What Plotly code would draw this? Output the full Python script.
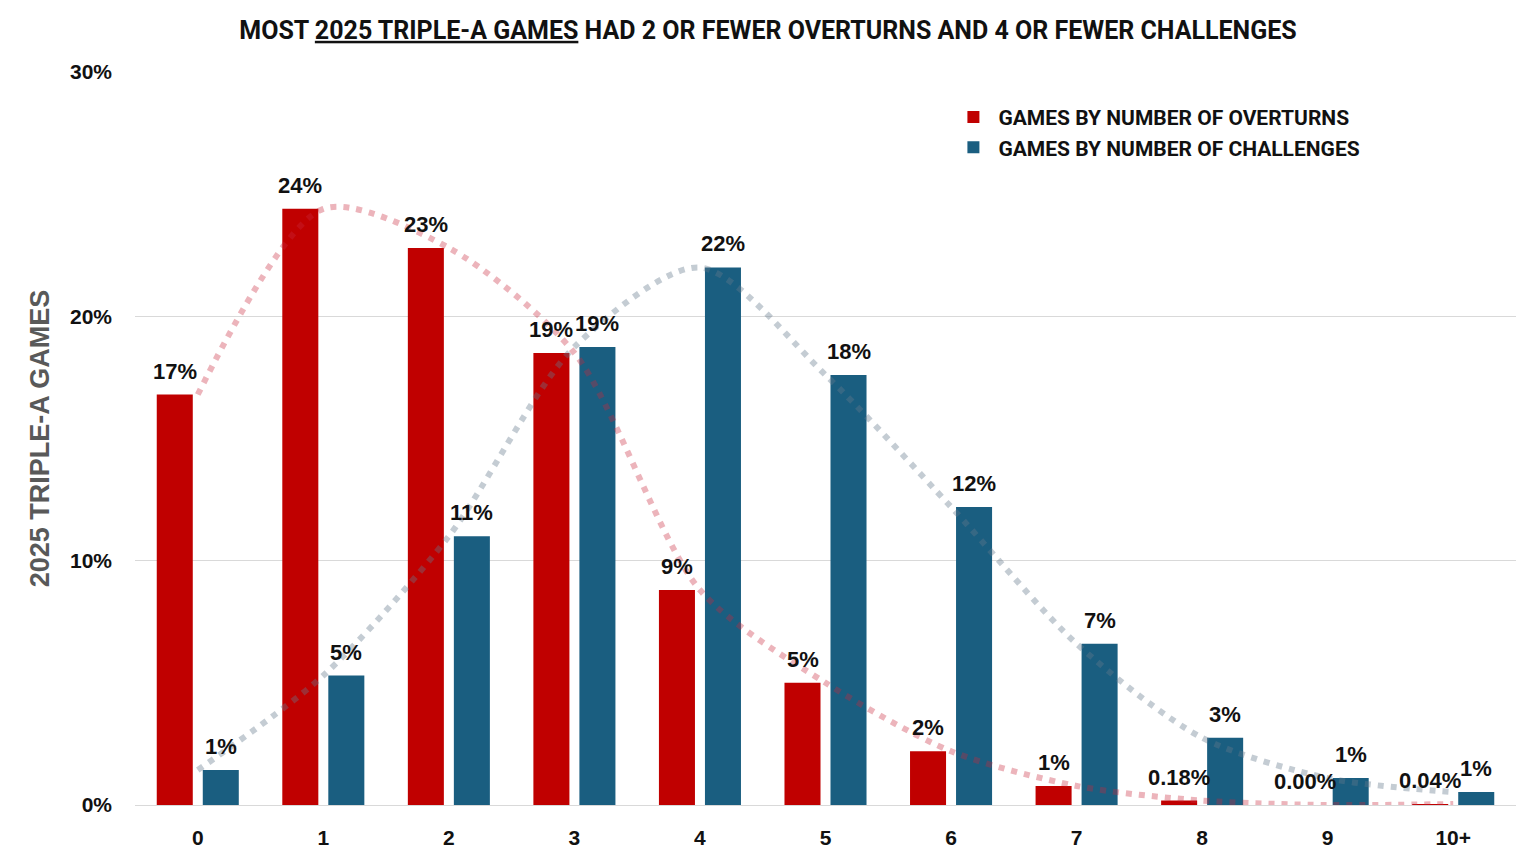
import plotly.graph_objects as go

categories = ["0", "1", "2", "3", "4", "5", "6", "7", "8", "9", "10+"]
overturns = [16.8, 24.4, 22.8, 18.5, 8.8, 5.0, 2.2, 0.78, 0.18, 0.0, 0.04]
challenges = [1.43, 5.3, 11.0, 18.75, 22.0, 17.6, 12.2, 6.6, 2.75, 1.1, 0.53]
overturn_labels = ["17%", "24%", "23%", "19%", "9%", "5%", "2%", "1%", "0.18%", "0.00%", "0.04%"]
challenge_labels = ["1%", "5%", "11%", "19%", "22%", "18%", "12%", "7%", "3%", "1%", "1%"]
y_tick_vals = [0, 10, 20, 30]
y_tick_text = ["0%", "10%", "20%", "30%"]

RED = "#C00000"
BLUE = "#1A5E80"
LABEL_FONT = dict(family="Liberation Sans, Arial", size=22, color="#111111")

fig = go.Figure()
fig.add_trace(go.Bar(
    x=categories, y=overturns, name="<b>GAMES BY NUMBER OF OVERTURNS</b>",
    marker=dict(color=RED, line=dict(width=0)), hoverinfo="skip",
))
fig.add_trace(go.Bar(
    x=categories, y=challenges, name="<b>GAMES BY NUMBER OF CHALLENGES</b>",
    marker=dict(color=BLUE, line=dict(width=0)), hoverinfo="skip",
))
fig.add_trace(go.Scatter(
    x=categories, y=overturns, mode="lines", showlegend=False, hoverinfo="skip",
    line=dict(color="rgba(200,40,60,0.35)", width=6, dash="6px,7px", shape="spline", smoothing=0.8),
))
fig.add_trace(go.Scatter(
    x=categories, y=challenges, mode="lines", showlegend=False, hoverinfo="skip",
    line=dict(color="rgba(100,120,140,0.38)", width=6, dash="6px,7px", shape="spline", smoothing=0.8),
))

# data labels above each bar (red bars sit left of category centre, blue right)
annotations = []
for cat, val, lab in zip(categories, overturns, overturn_labels):
    annotations.append(dict(x=cat, y=val, xref="x", yref="y", text="<b>%s</b>" % lab,
                            showarrow=False, xshift=-23, yshift=9, yanchor="bottom",
                            xanchor="center", font=LABEL_FONT))
for cat, val, lab in zip(categories, challenges, challenge_labels):
    annotations.append(dict(x=cat, y=val, xref="x", yref="y", text="<b>%s</b>" % lab,
                            showarrow=False, xshift=23, yshift=9, yanchor="bottom",
                            xanchor="center", font=LABEL_FONT))

fig.update_layout(
    width=1520, height=848,
    margin=dict(l=127, r=12, t=64, b=51, autoexpand=False),
    paper_bgcolor="white", plot_bgcolor="white",
    barmode="group", bargap=0.267, bargroupgap=0.217,
    title=dict(
        text="<b>MOST <u>2025 TRIPLE-A GAMES</u> HAD 2 OR FEWER OVERTURNS AND 4 OR FEWER CHALLENGES</b>",
        font=dict(family="Roboto", size=25, color="#111111"),
        x=0.5, xref="container", xanchor="center", y=0.974, yref="container", yanchor="middle",
    ),
    legend=dict(
        x=0.589, y=0.966, xanchor="left", yanchor="top",
        font=dict(family="Roboto", size=21, color="#111111"),
        bgcolor="rgba(0,0,0,0)", tracegroupgap=0, itemwidth=40,
    ),
    showlegend=True,
    annotations=annotations,
    xaxis=dict(
        type="category", range=[-0.5, 10.5], automargin=False,
        tickfont=dict(family="Liberation Sans, Arial", size=21, color="#111111"),
        tickprefix="<b>", ticksuffix="</b>",
        showgrid=False, showline=True, linecolor="#D9D9D9", linewidth=1,
        ticks="", ticklabelstandoff=14,
    ),
    yaxis=dict(
        range=[0, 30], tickvals=y_tick_vals, ticktext=["<b>%s</b>" % t for t in y_tick_text],
        tickfont=dict(family="Liberation Sans, Arial", size=21, color="#111111"),
        showgrid=True, gridcolor="#D9D9D9", gridwidth=1, zeroline=False, automargin=False,
        ticks="", ticklabelstandoff=22,
        title=dict(text="<b>2025 TRIPLE-A GAMES</b>",
                   font=dict(family="Liberation Sans, Arial", size=27, color="#595959"),
                   standoff=12),
    ),
)

fig.write_html("out.html")
